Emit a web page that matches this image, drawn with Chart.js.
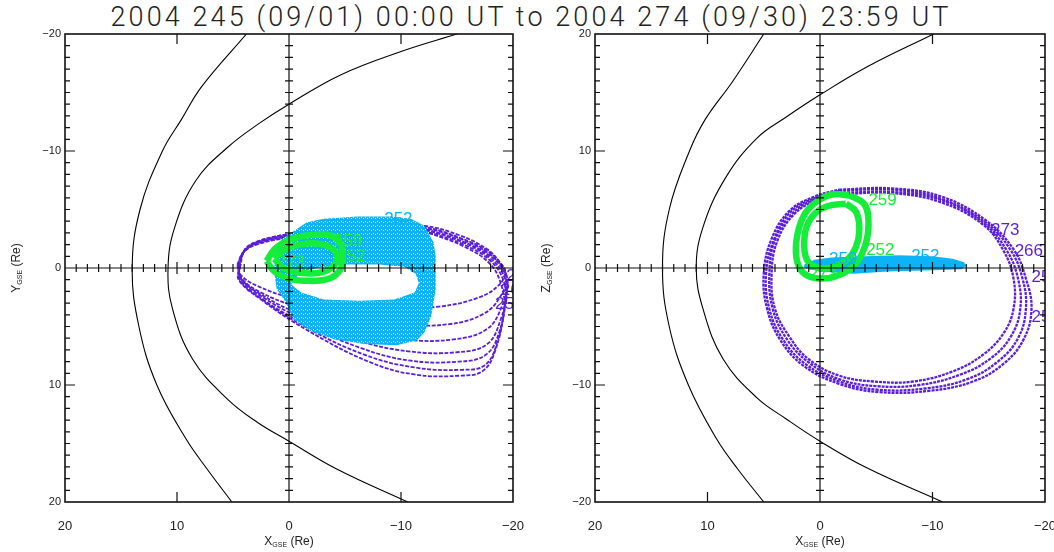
<!DOCTYPE html>
<html>
<head>
<meta charset="utf-8">
<script src="https://cdn.jsdelivr.net/npm/chart.js@4.4.1/dist/chart.umd.min.js"></script>
<style>
  html, body { margin: 0; padding: 0; background: #fff; }
  body { width: 1054px; height: 552px; position: relative; overflow: hidden; }
  #title { position: absolute; left: 0; top: 0; width: 1062px; text-align: center;
           font: 300 27px Roboto, sans-serif; letter-spacing: 3.1px; line-height: 34px; color: #222; }
  canvas { position: absolute; top: 0; }
</style>
</head>
<body>
<div id="title">2004 245 (09/01) 00:00 UT to 2004 274 (09/30) 23:59 UT</div>
<canvas id="xy" width="530" height="552" style="left:0"></canvas>
<canvas id="xz" width="524" height="552" style="left:530px"></canvas>
<script>
// axis ticks (Re)
const xTicks = [20, 10, 0, -10, -20];
const yTicks = [-20, -10, 0, 10, 20];

// bow shock + magnetopause
const bowShockXY = [[3.8,-20],[7.8,-15.5],[9.6,-12.7],[11.3,-10],[13.3,-5],[14.0,0],[13.4,5],[11.8,10],[9.2,14.6],[7.3,17.2],[5.1,20]];
const magnetopauseXY = [[-15,-20],[-10,-18.5],[-4.6,-16.5],[0,-14],[2.6,-12.4],[5.5,-10.3],[8.3,-7.5],[10.2,-3.5],[10.8,0],[10.4,3.5],[8.6,7.8],[5.5,11.2],[2.8,13.2],[0,14.8],[-4.3,17.2],[-10.6,20]];
const bowShockXZ = [[5.0,20],[7.8,15.9],[10.2,12.7],[11.6,10],[13.4,5],[14.0,0],[13.4,-5],[11.7,-10],[9.2,-14.6],[7.3,-17.2],[5.0,-20]];
const magnetopauseXZ = [[-10.1,20],[-4.2,17.2],[0,14.8],[3.0,12.9],[5.6,11.1],[8.4,7.7],[10.4,3.5],[11.0,0],[10.4,-3.5],[8.6,-7.8],[5.6,-11.1],[3.0,-12.9],[0,-14.8],[-4.2,-17.1],[-10.9,-20]];

// purple orbits, X-Y
const purpleXY = [
  [[4.6,-0.3],[4.1,-1.3],[2.9,-2.0],[0,-2.6],[-4.5,-3.2],[-8.9,-3.6],[-12.1,-3.6],[-15.2,-2.8],[-17.7,-1.6],[-18.9,-0.4],[-19.3,0.3],[-18.8,1.4],[-17.0,2.5],[-13.4,3.3],[-8.9,3.4],[-4.5,3.2],[-0.4,2.6],[2.9,1.5],[4.3,0.6],[4.6,-0.3]],
  [[4.6,-0.2],[4.1,-1.3],[2.9,-2.1],[0,-2.7],[-4.5,-3.3],[-8.9,-3.7],[-12.1,-3.5],[-15.2,-2.6],[-17.8,-1.4],[-19.1,-0.1],[-19.4,0.8],[-18.9,2.4],[-17.4,3.9],[-14.3,4.8],[-9.8,4.8],[-4.9,4.2],[-0.7,3.3],[2.7,2.0],[4.3,0.8],[4.6,-0.2]],
  [[4.5,-0.2],[4.0,-1.4],[2.8,-2.1],[0,-2.7],[-4.5,-3.3],[-8.9,-3.7],[-12.2,-3.4],[-15.3,-2.5],[-17.9,-1.2],[-19.2,0.2],[-19.5,1.3],[-19.0,3.3],[-17.7,5.2],[-14.7,6.1],[-10.3,6.1],[-5.4,5.2],[-0.9,3.9],[2.6,2.2],[4.3,0.9],[4.5,-0.2]],
  [[4.5,-0.1],[4.0,-1.4],[2.8,-2.2],[0,-2.8],[-4.5,-3.4],[-8.9,-3.8],[-12.2,-3.3],[-15.4,-2.3],[-18.0,-1.0],[-19.3,0.5],[-19.5,1.8],[-18.9,4.4],[-17.7,6.5],[-15.0,7.2],[-10.5,7.1],[-5.8,6.1],[-1.1,4.3],[2.5,2.4],[4.3,0.9],[4.5,-0.1]],
  [[4.5,-0.1],[4.0,-1.5],[2.8,-2.2],[0,-2.8],[-4.5,-3.4],[-8.9,-3.8],[-12.3,-3.2],[-15.5,-2.2],[-18.0,-0.8],[-19.3,0.9],[-19.4,2.3],[-18.8,5.4],[-17.6,7.4],[-15.2,8.0],[-10.7,7.9],[-6.3,6.8],[-1.3,4.7],[2.5,2.6],[4.4,1.0],[4.5,-0.1]],
  [[4.4,0],[4.0,-1.5],[2.7,-2.3],[0,-2.9],[-4.5,-3.5],[-8.9,-3.9],[-12.3,-3.1],[-15.6,-2.0],[-18.0,-0.6],[-19.2,1.2],[-19.3,2.9],[-18.6,6.3],[-17.5,8.3],[-15.4,8.7],[-11.2,8.5],[-6.7,7.4],[-1.4,5.0],[2.5,2.6],[4.4,1.0],[4.4,0]],
  [[4.4,0],[3.9,-1.6],[2.7,-2.3],[0,-2.9],[-4.5,-3.5],[-8.9,-3.9],[-12.4,-3.0],[-15.7,-1.8],[-18.0,-0.3],[-19.0,1.6],[-19.2,3.5],[-18.4,7.1],[-17.3,8.8],[-15.4,9.2],[-11.2,9.1],[-7.1,8.0],[-1.6,5.3],[2.5,2.7],[4.5,1.0],[4.4,0]]
];
// cyan band edges, X-Y
const cyanOuterXY = [[1.3,-0.2],[1.1,-1.6],[0.6,-2.5],[-1.6,-3.9],[-3.1,-4.2],[-6.1,-4.4],[-9.1,-4.4],[-10.9,-4.2],[-12.1,-3.6],[-12.9,-2.2],[-13.1,-1.0],[-13.1,1.8],[-12.7,4.1],[-12.1,5.5],[-11.4,6.2],[-9.6,6.6],[-6.7,6.5],[-4.0,6.1],[-2.0,5.4],[-0.4,4.4],[0.3,2.9],[1.1,1.8],[1.3,0.5]];
const cyanInnerXY = [[-0.2,1.4],[-0.9,0.5],[-2.5,0],[-4.9,-0.3],[-8.0,-0.3],[-10.3,-0.1],[-11.3,0.5],[-11.6,1.3],[-11.2,2.1],[-9.4,2.7],[-6.3,2.8],[-3.1,2.7],[-1.1,2.1]];
// green orbits, X-Y
const greenXY = [
  [[2.0,-0.6],[1.3,-1.6],[0,-2.4],[-1.8,-2.8],[-3.6,-2.8],[-4.6,-2.1],[-4.8,-0.9],[-4.6,0.1],[-3.6,0.9],[-1.8,1.1],[0,0.9],[1.3,0.3],[2.0,-0.6]],
  [[1.3,-0.8],[0.5,-1.5],[-0.9,-2.0],[-2.5,-2.1],[-3.8,-1.7],[-4.3,-0.9],[-3.9,-0.1],[-2.7,0.4],[-0.9,0.4],[0.5,0],[1.3,-0.8]]
];

// purple orbits, X-Z
const purpleXZ = [
  [[-1.7,6.7],[-6.4,6.8],[-10.8,6.1],[-14.7,4.1],[-17.2,1.6],[-18.3,-0.9],[-18.8,-3.5],[-18.1,-6.1],[-16.3,-8.2],[-13.6,-9.7],[-9.7,-10.5],[-5.2,-10.6],[-1.7,-9.9],[1.4,-8.4],[3.5,-6.2],[4.7,-3.5],[5.0,-0.5],[4.3,2.5],[2.7,4.9],[0.5,6.1],[-1.7,6.7]],
  [[-1.7,6.6],[-6.4,6.7],[-10.8,5.9],[-14.7,3.9],[-16.9,1.6],[-18.0,-0.9],[-18.3,-3.5],[-17.6,-6.0],[-15.8,-8.0],[-13.1,-9.5],[-9.3,-10.3],[-5.1,-10.4],[-1.7,-9.7],[1.3,-8.2],[3.3,-6.1],[4.5,-3.5],[4.8,-0.5],[4.1,2.4],[2.6,4.8],[0.4,6.0],[-1.7,6.6]],
  [[-1.7,6.4],[-6.4,6.5],[-10.8,5.8],[-14.6,3.8],[-16.6,1.5],[-17.6,-0.9],[-17.8,-3.5],[-17.0,-5.8],[-15.2,-7.7],[-12.5,-9.1],[-8.8,-10.0],[-5.0,-10.1],[-1.7,-9.5],[1.1,-8.0],[3.0,-6.0],[4.2,-3.5],[4.5,-0.5],[4.0,2.4],[2.4,4.7],[0.4,5.9],[-1.7,6.4]],
  [[-1.7,6.3],[-6.4,6.4],[-10.8,5.6],[-14.5,3.7],[-16.3,1.5],[-17.2,-0.9],[-17.2,-3.5],[-16.3,-5.6],[-14.5,-7.4],[-11.9,-8.8],[-8.3,-9.7],[-4.8,-9.7],[-1.7,-9.2],[1.0,-7.8],[2.7,-5.9],[4.0,-3.5],[4.3,-0.5],[3.8,2.3],[2.3,4.6],[0.3,5.8],[-1.7,6.3]]
];
const cyanXZ = [[1.4,0.3],[0.5,0.7],[-1,0.9],[-4,1.0],[-7,1.1],[-10,1.0],[-11.8,0.8],[-12.8,0.5],[-13.0,0.2],[-12.6,-0.1],[-10,-0.2],[-6,-0.3],[-3,-0.5],[0,-0.3],[1.4,0.0]];
const greenXZ = [
  [[-2.6,6.2],[-3.9,5.5],[-4.3,4.2],[-4.1,2.2],[-3.2,0.4],[-1.7,-0.6],[0.1,-0.9],[1.5,-0.4],[2.1,0.9],[2.0,2.9],[1.3,4.7],[0.1,5.8],[-1.2,6.3],[-2.6,6.2]],
  [[-2.3,5.5],[-3.2,4.8],[-3.5,3.3],[-3.2,1.8],[-2.5,0.8],[-1.2,0.1],[0.1,0.0],[1.1,0.6],[1.4,1.8],[1.2,3.5],[0.4,4.7],[-0.7,5.3],[-2.3,5.5]]
];

// day-of-year markers: [text, x, y] (left end of the text)
const purpleDaysXY = [['273',-19.4,0.7],['266',-18.9,1.9],['259',-18.4,3.1]];
const cyanDaysXY = [['252',-8.5,-4.2]];
const greenDaysXY = [['259',-4.0,-2.3],['252',-4.3,-1.0],['273',1.1,-0.5]];
const purpleDaysXZ = [['273',-15.2,3.2],['266',-17.3,1.4],['259',-18.8,-0.8],['252',-18.8,-4.2]];
const cyanDaysXZ = [['259',-0.8,0.7],['252',-8.1,1.0]];
const greenDaysXZ = [['259',-4.3,5.8],['252',-4.1,1.5],['273',1.0,-0.5]];

const PURPLE = '#5a1fd6', CYAN = '#0db3f7', GREEN = '#14ee3a';
const FONT = '"Liberation Sans", Arial, sans-serif';

const pts = a => a.map(([x, y]) => ({x, y}));

function orbit(a, color, width, dash, order) {
  return {data: pts(a), showLine: true, borderColor: color, borderWidth: width, borderDash: dash,
          pointRadius: 0, tension: 0.4, fill: false, order};
}
function boundary(a) {
  return {data: pts(a), showLine: true, borderColor: '#000', borderWidth: 1.1, pointRadius: 0,
          tension: 0.4, fill: false, order: 9};
}
// closed filled region, optional hole (inner edge walked the other way)
function band(outer, inner, fillStyle, order) {
  let a = outer.concat([outer[0]]);
  if (inner) {
    const r = inner.slice().reverse();
    a = a.concat(r, [r[0], outer[0]]);
  }
  return {data: pts(a), showLine: true, borderColor: 'rgba(0,0,0,0)', borderWidth: 1,
          backgroundColor: fillStyle, fill: 'shape', pointRadius: 0, tension: 0, order};
}

function speckle(canvas, base) {
  const c = document.createElement('canvas');
  c.width = 4; c.height = 4;
  const g = c.getContext('2d');
  g.fillStyle = base; g.fillRect(0, 0, 4, 4);
  g.fillStyle = '#ffffff'; g.fillRect(1, 1, 1, 1); g.fillRect(3, 2, 1, 1);
  return canvas.getContext('2d').createPattern(c, 'repeat');
}

const minus = v => v < 0 ? '\u2212' + (-v) : String(v);

// box, edge ticks and the crosshair through the origin
const frame = {
  id: 'frame',
  afterDatasetsDraw(chart) {
    const {ctx, chartArea: a, scales: {x, y}} = chart;
    const x0 = x.getPixelForValue(0), y0 = y.getPixelForValue(0);
    ctx.save();
    ctx.strokeStyle = '#111';
    ctx.lineWidth = 1.2;
    ctx.beginPath();
    ctx.moveTo(x0, a.top); ctx.lineTo(x0, a.bottom);
    ctx.moveTo(a.left, y0); ctx.lineTo(a.right, y0);
    for (let v = -19; v <= 19; v++) {
      const major = v % 10 === 0;
      const py = y.getPixelForValue(v), px = x.getPixelForValue(v);
      const e = major ? 10 : 5, c = major ? 6 : 4;
      ctx.moveTo(a.left, py); ctx.lineTo(a.left + e, py);
      ctx.moveTo(a.right, py); ctx.lineTo(a.right - e, py);
      ctx.moveTo(x0 - c, py); ctx.lineTo(x0 + c, py);
      ctx.moveTo(px, y0 - c); ctx.lineTo(px, y0 + c);
      if (major && v !== 0) {
        ctx.moveTo(px, a.top); ctx.lineTo(px, a.top + 10);
        ctx.moveTo(px, a.bottom); ctx.lineTo(px, a.bottom - 10);
      }
    }
    ctx.stroke();
    ctx.lineWidth = 1.6;
    ctx.strokeRect(a.left, a.top, a.right - a.left, a.bottom - a.top);
    ctx.restore();
  }
};

function dayLabels(groups) {
  return {
    id: 'days',
    afterDatasetsDraw(chart) {
      const {ctx, chartArea: a, scales: {x, y}} = chart;
      ctx.save();
      ctx.beginPath();
      ctx.rect(a.left, a.top, a.right - a.left, a.bottom - a.top);
      ctx.clip();
      ctx.font = '17px ' + FONT;
      ctx.textAlign = 'left';
      ctx.textBaseline = 'middle';
      for (const [list, color] of groups) {
        ctx.fillStyle = color;
        for (const [t, vx, vy] of list) ctx.fillText(t, x.getPixelForValue(vx), y.getPixelForValue(vy));
      }
      ctx.restore();
    }
  };
}

function subLabel(ctx, main, sub, tail, cx, cy, rot) {
  const big = '12px ' + FONT, small = '7px ' + FONT;
  ctx.save();
  ctx.translate(cx, cy);
  ctx.rotate(rot);
  ctx.font = big;
  const w1 = ctx.measureText(main).width, w3 = ctx.measureText(tail).width;
  ctx.font = small;
  const w2 = ctx.measureText(sub).width;
  let px = -(w1 + w2 + w3) / 2;
  ctx.fillStyle = '#222';
  ctx.textAlign = 'left';
  ctx.textBaseline = 'alphabetic';
  ctx.font = big; ctx.fillText(main, px, 4); px += w1;
  ctx.font = small; ctx.fillText(sub, px, 6); px += w2;
  ctx.font = big; ctx.fillText(tail, px, 4);
  ctx.restore();
}

function axisTitles(yName) {
  return {
    id: 'axisTitles',
    afterDraw(chart) {
      const a = chart.chartArea;
      subLabel(chart.ctx, 'X', 'GSE', ' (Re)', (a.left + a.right) / 2, 541, 0);
      subLabel(chart.ctx, yName, 'GSE', ' (Re)', 16, (a.top + a.bottom) / 2, -Math.PI / 2);
    }
  };
}

function panel(id, yReverse, yName, datasets, days, padRight) {
  return new Chart(document.getElementById(id), {
    type: 'scatter',
    data: {datasets},
    options: {
      responsive: false,
      animation: false,
      events: [],
      layout: {padding: {top: 34, right: padRight, left: 0, bottom: 0}},
      plugins: {legend: {display: false}, tooltip: {enabled: false}},
      scales: {
        x: {
          type: 'linear', min: -20, max: 20, reverse: true,
          afterBuildTicks: s => { s.ticks = xTicks.map(value => ({value})); },
          afterFit: s => { s.height = 50; s.paddingLeft = 0; s.paddingRight = 0; },
          grid: {display: false, drawTicks: false},
          border: {display: false},
          ticks: {padding: 17, color: '#222', font: {family: FONT, size: 13}, maxRotation: 0,
                  callback: minus}
        },
        y: {
          type: 'linear', min: -20, max: 20, reverse: yReverse,
          afterBuildTicks: s => { s.ticks = yTicks.map(value => ({value})); },
          afterFit: s => { s.width = 65; s.paddingTop = 0; s.paddingBottom = 0; },
          grid: {display: false, drawTicks: false},
          border: {display: false},
          ticks: {padding: 4, color: '#222', font: {family: FONT, size: 11}, callback: minus}
        }
      }
    },
    plugins: [dayLabels(days), frame, axisTitles(yName)]
  });
}

const cvXY = document.getElementById('xy');

panel('xy', true, 'Y', [
  boundary(bowShockXY),
  boundary(magnetopauseXY),
  ...purpleXY.map(l => orbit(l, PURPLE, 1.8, [4, 1.5], 6)),
  band(cyanOuterXY, cyanInnerXY, speckle(cvXY, CYAN), 4),
  ...greenXY.map(l => orbit(l, GREEN, 6.5, [], 2))
], [[purpleDaysXY, PURPLE], [cyanDaysXY, CYAN], [greenDaysXY, GREEN]], 17);

panel('xz', false, 'Z', [
  boundary(bowShockXZ),
  boundary(magnetopauseXZ),
  ...purpleXZ.map(l => orbit(l, PURPLE, 2.3, [3, 1], 6)),
  band(cyanXZ, null, CYAN, 4),
  ...greenXZ.map(l => orbit(l, GREEN, 6.5, [], 2))
], [[purpleDaysXZ, PURPLE], [cyanDaysXZ, CYAN], [greenDaysXZ, GREEN]], 9);
</script>
</body>
</html>
